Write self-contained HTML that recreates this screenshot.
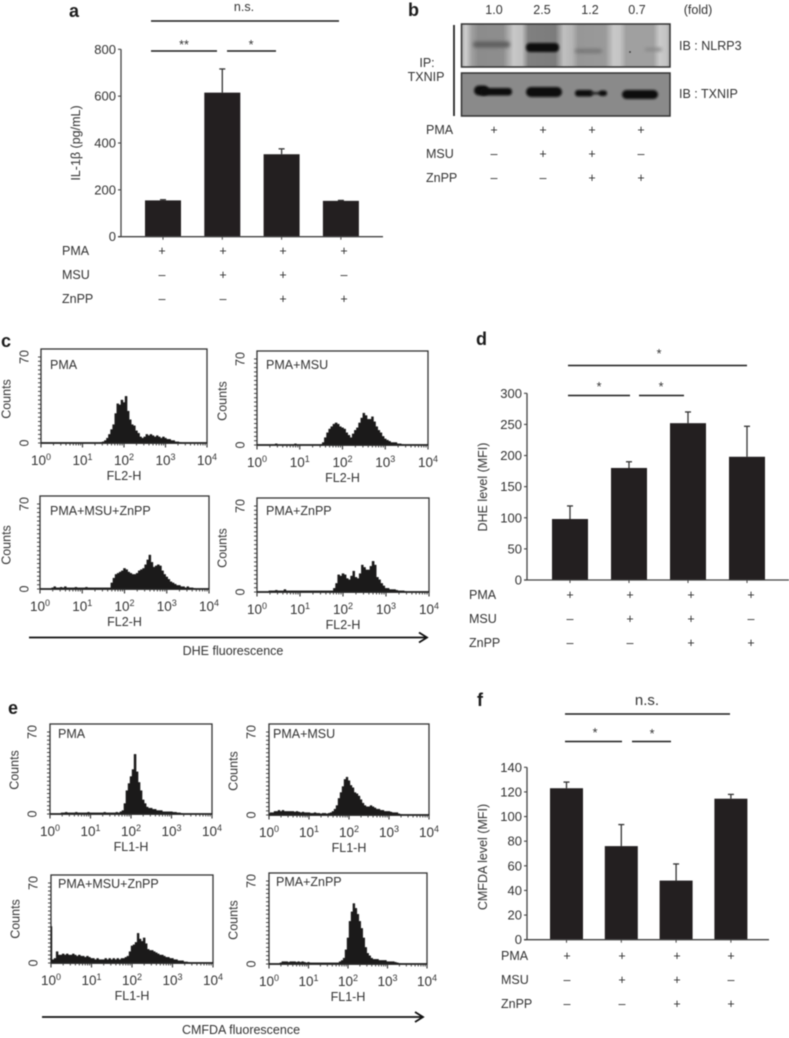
<!DOCTYPE html>
<html lang="en">
<head>
<meta charset="utf-8">
<title>Multi-panel figure</title>
<style>
html,body{margin:0;padding:0;background:#fff;}
#figure{display:block;width:789px;height:1038px;filter:blur(0.4px);}
text{font-family:"Liberation Sans",sans-serif;fill:#333;font-size:12.5px;}
.letter{font-weight:bold;font-size:18px;fill:#1c1c1c;}
</style>
</head>
<body>
<svg id="figure" xmlns="http://www.w3.org/2000/svg" width="789" height="1038" viewBox="0 0 789 1038">
<defs>
<linearGradient id="blotStreaks" x1="0" x2="1" y1="0" y2="0">
<stop offset="0" stop-color="#a8a8a8"/><stop offset=".02" stop-color="#cfcfcf"/><stop offset=".05" stop-color="#a0a0a0"/><stop offset=".08" stop-color="#8c8c8c"/>
<stop offset=".2" stop-color="#8e8e8e"/><stop offset=".25" stop-color="#c8c8c8"/><stop offset=".29" stop-color="#c0c0c0"/><stop offset=".32" stop-color="#808080"/>
<stop offset=".45" stop-color="#7c7c7c"/><stop offset=".49" stop-color="#c0c0c0"/><stop offset=".53" stop-color="#b5b5b5"/><stop offset=".56" stop-color="#979797"/>
<stop offset=".69" stop-color="#9a9a9a"/><stop offset=".73" stop-color="#c8c8c8"/><stop offset=".76" stop-color="#c4c4c4"/><stop offset=".79" stop-color="#a0a0a0"/>
<stop offset=".92" stop-color="#a0a0a0"/><stop offset=".95" stop-color="#cacaca"/><stop offset=".98" stop-color="#c4c4c4"/><stop offset="1" stop-color="#aaaaaa"/>
</linearGradient>
<filter id="bandBlur" x="-30%" y="-100%" width="160%" height="300%"><feGaussianBlur stdDeviation="1"/></filter>
<filter id="softBlur" x="-30%" y="-100%" width="160%" height="300%"><feGaussianBlur stdDeviation="1.8"/></filter>
</defs>
<rect x="0" y="0" width="789" height="1038" fill="#fff"/>

<text class="letter" x="69" y="17">a</text>
<text class="letter" x="408" y="16">b</text>
<text class="letter" x="1" y="347">c</text>
<text class="letter" x="476" y="345">d</text>
<text class="letter" x="8" y="714">e</text>
<text class="letter" x="477" y="706">f</text>

<g id="blot">
<rect x="461.500" y="24" width="208.500" height="43" fill="url(#blotStreaks)" stroke="#333" stroke-width="1.5"/>
<rect x="473" y="41.500" width="37" height="6" rx="3" fill="#5e5e5e" filter="url(#softBlur)"/>
<rect x="526" y="43" width="33" height="9" rx="4" fill="#0d0d0d" filter="url(#bandBlur)"/>
<rect x="575" y="49" width="27" height="4" rx="2" fill="#757575" filter="url(#softBlur)"/>
<rect x="645" y="48" width="17" height="3" rx="1.5" fill="#858585" filter="url(#softBlur)"/>
<circle cx="630" cy="52" r="0.9" fill="#333"/>
<rect x="461.500" y="73" width="208.500" height="43" fill="#8a8a8a" stroke="#333" stroke-width="1.5"/>
<rect x="474" y="85.500" width="15" height="10" rx="5" fill="#0c0c0c" filter="url(#bandBlur)"/>
<rect x="480" y="88" width="32" height="7.500" rx="3.500" fill="#0c0c0c" filter="url(#bandBlur)"/>
<rect x="526" y="87" width="36" height="10" rx="5" fill="#0c0c0c" filter="url(#bandBlur)"/>
<rect x="575" y="90" width="18" height="6.500" rx="3" fill="#111" filter="url(#bandBlur)"/>
<rect x="590" y="92" width="12" height="2.500" fill="#222" filter="url(#bandBlur)"/>
<rect x="599" y="90.500" width="8" height="5.500" rx="2.500" fill="#111" filter="url(#bandBlur)"/>
<rect x="622" y="90" width="36" height="9" rx="4.500" fill="#0c0c0c" filter="url(#bandBlur)"/>
<line x1="454" y1="25" x2="454" y2="116" stroke="#1c1c1c" stroke-width="1.7"/>
<text x="427" y="67" text-anchor="middle">IP:</text>
<text x="426" y="81" text-anchor="middle">TXNIP</text>
<text x="679" y="50">IB : NLRP3</text>
<text x="679" y="98">IB : TXNIP</text>
<text x="698" y="14" text-anchor="middle">(fold)</text>
</g>

<g id="arrows">
<line x1="29" y1="637.500" x2="426" y2="637.500" stroke="#111" stroke-width="1.8"/>
<polyline points="419,632.500 427,637.500 419,642.500" fill="none" stroke="#111" stroke-width="1.8"/>
<text x="233" y="655" text-anchor="middle">DHE fluorescence</text>
<line x1="42" y1="1017" x2="422" y2="1017" stroke="#111" stroke-width="1.8"/>
<polyline points="415,1012 423,1017 415,1022" fill="none" stroke="#111" stroke-width="1.8"/>
<text x="241" y="1034" text-anchor="middle">CMFDA fluorescence</text>
</g>

<g id="sig">
<text x="244" y="11" text-anchor="middle">n.s.</text>
<line x1="151" y1="21" x2="339" y2="21" stroke="#1c1c1c" stroke-width="1.6"/>
<line x1="151" y1="51" x2="217" y2="51" stroke="#1c1c1c" stroke-width="1.6"/>
<line x1="227" y1="51" x2="276" y2="51" stroke="#1c1c1c" stroke-width="1.6"/>
<text x="184" y="49" text-anchor="middle">**</text>
<text x="251" y="49" text-anchor="middle">*</text>
<text x="659" y="358" text-anchor="middle">*</text>
<line x1="568" y1="365.500" x2="747" y2="365.500" stroke="#1c1c1c" stroke-width="1.6"/>
<text x="599" y="391" text-anchor="middle">*</text>
<text x="661" y="391" text-anchor="middle">*</text>
<line x1="568" y1="395.500" x2="630" y2="395.500" stroke="#1c1c1c" stroke-width="1.6"/>
<line x1="639" y1="395.500" x2="684" y2="395.500" stroke="#1c1c1c" stroke-width="1.6"/>
<text x="647" y="705" text-anchor="middle" style="font-size:15px">n.s.</text>
<line x1="565" y1="714" x2="730" y2="714" stroke="#1c1c1c" stroke-width="1.6"/>
<line x1="565" y1="741.500" x2="622" y2="741.500" stroke="#1c1c1c" stroke-width="1.6"/>
<line x1="632" y1="741.500" x2="671" y2="741.500" stroke="#1c1c1c" stroke-width="1.6"/>
<text x="595" y="737" text-anchor="middle">*</text>
<text x="652" y="738" text-anchor="middle">*</text>
</g>
<g id="plots"></g>
</svg>

<script>
// Treatment matrix shared by panels
const pmaSigns = ['+', '+', '+', '+'];
const msuSigns = ['–', '+', '+', '–'];
const znppSigns = ['–', '–', '+', '+'];
const rowLabels = ['PMA', 'MSU', 'ZnPP'];
const foldValues = ['1.0', '2.5', '1.2', '0.7'];

// Panel a
const aTicks = [0, 200, 400, 600, 800];
const aValues = [155, 615, 352, 153];
const aErrorTops = [158, 716, 375, 155];
// Panel d
const dTicks = [0, 50, 100, 150, 200, 250, 300];
const dValues = [98, 180, 252, 198];
const dErrorTops = [119, 190, 270, 247];
// Panel f
const fTicks = [0, 20, 40, 60, 80, 100, 120, 140];
const fValues = [123, 76, 48, 114.5];
const fErrorTops = [128, 93.5, 61.5, 118];

// Flow histograms: event counts per 0.05-decade bin from 10^0 to 10^4
const decadeExponents = [0, 1, 2, 3, 4];
const c1Counts = [0,0,0,0,0,0,0,0,0,0,0,0,0,0,0,0,0,0,0,0,0,0,0,0,0,0,0,0,0,0.5,1,2,4,7,11,15,24,32,31,35,33,38,26,19,15,14,10,8,5,4,5,7,6,7,6,5,6,5,4,5,4,3,3,2,2,1,1,0.5,0,0,0,0,0,0,0,0,0,0,0,0,0];
const c2Counts = [0,0,0,0,0,0,0,0,0,1,0,0,0,0,0,0,0,0,1,0,0,0,0,0,0,0,0,0,0,0,0.5,2,6,10,13,15,17,18,17,15,14,13,10,8,6,9,12,14,18,22,26,24,21,21,23,19,15,12,10,7,5,4,3,2,2,2,1,1,0.5,0,0,0,0,0,0,0,0,0,0,0,0];
const c3Counts = [0,0,0,0,0,0,1,2,1,1,1.5,1,2,1,1,1,1,1.5,1,1,1,1,1.5,1,1,1,1,1,1,1,1,1,1,1,5,9,12,13,14,15,17,16,14,13,12,12,13,15,16,17,20,24,28,22,18,19,20,19,15,12,10,8,6,5,4,3,3,2,2,1,2,1,1,0.5,0,0,0,0,0,0,0];
const c4Counts = [0,0,0,0,0,0,1,1,1,1.5,1,1,1,2,1,1,1,1,1,1,1,1,1,1,1,1,1,1,1,1,1,1,1,1,1,1,3,7,14,13,15,14,11,10,13,17,12,11,15,22,20,18,18,21,25,22,12,10,7,5,3,3,2,2,2,1.5,1,1,1,0.5,0,0,0,0,0,0,0,0,0,0,0];
const e1Counts = [0,0,0,0,0,0,1,1,1.5,1,1,1,1,1.5,1,1,1,1,1,1.5,1,1,1,1,1,1,1,1.5,1,1,1,1,1,1.5,1,2,3,9,20,26,32,38,51,36,27,20,12,9,6,5,5,4,4,3,3,3,2,2,2,2,2,1.5,1.5,1,1,0.5,0,0,0,0,0,0,0,0,0,0,0,0,0,0,0];
const e2Counts = [1,2,2,3,3,4,3,4,3,3,3,3,3,2.5,3,2.5,2,2.5,2,2,2,1.5,1.5,2,1.5,1.5,1,1.5,1.5,1,1.5,2,3,5,8,14,19,24,30,32,29,25,23,19,18,16,13,10,8,7,7,8,7,6,5,5,4,4,3,3,3,2.5,2,2,2,1,0.5,0,0,0,0,0,0,0,0,0,0,0,0,0,0];
const e3Counts = [32,3,4,10,7,7,8,7,8,7,7,8,7,6,7,6,6,5,6,5,4,4,3,4,3,3,3,4,3,4,3,4,3,4,3,4,4,5,6,10,15,16,18,26,21,19,22,17,12,11,11,10,9,8,7,7,6,5,5,4,4,3,3,2,2,2,1,1,0.5,0,0,0,0,0,0,0,0,0,0,0,0];
const e4Counts = [0,0,0,0,0,0,1,2,2,2,1.5,2,2,2,1.5,2,1.5,2,1.5,1,1.5,1,1,1,1,1,1,1,1,1,1,1,1,1,1,1,2,3,5,12,22,36,44,51,47,42,36,30,22,14,9,7,5,4,4,4,3,3,3,3,2,2,2,2,1.5,1,0.5,0,0,0,0,0,0,0,0,0,0,0,0,0,0];

const svgNS = 'http://www.w3.org/2000/svg';
const plots = document.getElementById('plots');

function make(tag, parent, props) {
  const el = document.createElementNS(svgNS, tag);
  Object.keys(props).forEach(function (k) { el.setAttribute(k, props[k]); });
  parent.appendChild(el);
  return el;
}

function drawSignRows(g, cfg) {
  const signRows = [pmaSigns, msuSigns, znppSigns];
  signRows.forEach(function (signs, r) {
    const label = make('text', g, { x: cfg.rowLabelX, y: cfg.rowY[r] + 4 });
    
    
    label.textContent = rowLabels[r];
    signs.forEach(function (s, i) {
      const t = make('text', g, { x: cfg.signX[i], y: cfg.rowY[r] + 4, 'text-anchor': 'middle' });
      
      
      t.textContent = s;
    });
  });
}

function drawBarChart(cfg, ticks, values, errorTops) {
  const g = make('g', plots, {});
  
  
  const maxTick = ticks[ticks.length - 1];
  const yScale = function (v) { return cfg.y0 - v / maxTick * (cfg.y0 - cfg.yTop); };
  const xScale = function (i) { return cfg.firstCenter + i * cfg.step; };

  values.forEach(function (v, i) {
    const cx = xScale(i);
    const errLine = make('line', g, { x1: cx, x2: cx, y1: yScale(errorTops[i]), y2: yScale(v), stroke: '#333', 'stroke-width': 1.3 });
    
    
    const errCap = make('line', g, { x1: cx - 3, x2: cx + 3, y1: yScale(errorTops[i]), y2: yScale(errorTops[i]), stroke: '#333', 'stroke-width': 1.3 });
    
    
    const bar = make('rect', g, { x: cx - cfg.barW / 2, y: yScale(v), width: cfg.barW, height: cfg.y0 - yScale(v), fill: '#231f20' });
    
    
    const tick = make('line', g, { x1: cx, x2: cx, y1: cfg.y0, y2: cfg.y0 + 3, stroke: '#444', 'stroke-width': 1 });
    
    
  });

  const yAxis = make('line', g, { x1: cfg.axisX, x2: cfg.axisX, y1: cfg.yTop, y2: cfg.y0, stroke: '#444', 'stroke-width': 1.3 });
  
  
  const xAxis = make('line', g, { x1: cfg.axisX - 3, x2: cfg.axisEnd, y1: cfg.y0, y2: cfg.y0, stroke: '#444', 'stroke-width': 1.3 });
  
  

  ticks.forEach(function (v) {
    const tm = make('line', g, { x1: cfg.axisX - 3, x2: cfg.axisX, y1: yScale(v), y2: yScale(v), stroke: '#444', 'stroke-width': 1.1 });
    
    
    const tl = make('text', g, { x: cfg.axisX - 5, y: yScale(v) + 4.5, 'text-anchor': 'end', style: 'font-size:13px' });
    
    
    tl.textContent = v;
  });

  const title = make('text', g, { x: cfg.titleX, y: cfg.titleY, 'text-anchor': 'middle', transform: 'rotate(-90 ' + cfg.titleX + ' ' + cfg.titleY + ')' });
  
  
  title.textContent = cfg.title;

  drawSignRows(g, cfg);
}

function drawHistogram(cfg, counts) {
  const g = make('g', plots, {});
  
  
  const xScale = function (logV) { return cfg.left + logV / 4 * (cfg.right - cfg.left); };
  const yScale = function (c) { return cfg.bottom - c / 70 * (cfg.bottom - cfg.top - 8); };

  const frame = make('rect', g, { x: cfg.left, y: cfg.top, width: cfg.right - cfg.left, height: cfg.bottom - cfg.top, fill: '#fff', stroke: '#333', 'stroke-width': 1.3 });
  
  

  let pts = xScale(0) + ',' + cfg.bottom;
  counts.forEach(function (c, i) {
    const logV = i * 0.05;
    const x0 = xScale(Math.max(0, logV - 0.025)).toFixed(1);
    const x1 = xScale(Math.min(4, logV + 0.025)).toFixed(1);
    pts += ' ' + x0 + ',' + yScale(c).toFixed(1) + ' ' + x1 + ',' + yScale(c).toFixed(1);
  });
  pts += ' ' + xScale(Math.min(4, (counts.length - 1) * 0.05)) + ',' + cfg.bottom;
  const area = make('polygon', g, { points: pts, fill: '#1b1a1a', stroke: '#1b1a1a', 'stroke-width': 0.4 });
  
  

  const baseline = make('line', g, { x1: cfg.left, x2: cfg.right, y1: cfg.bottom, y2: cfg.bottom, stroke: '#222', 'stroke-width': 1.8 });
  
  

  for (let c = 0; c <= 73; c += 3.5) {
    const yt = make('line', g, { x1: cfg.left - 3, x2: cfg.left, y1: yScale(c), y2: yScale(c), stroke: '#333', 'stroke-width': 0.9 });
    
    
  }
  [0, 70].forEach(function (c) {
    const lx = cfg.left - cfg.yLabelGap;
    const ly = yScale(c);
    const yl = make('text', g, { x: lx, y: ly, 'text-anchor': 'middle', 'dominant-baseline': 'middle', transform: 'rotate(-90 ' + lx + ' ' + ly + ')' });
    
    
    yl.textContent = c;
  });
  const tx = cfg.left - cfg.yLabelGap - 18;
  const ty = cfg.bottom - 44;
  const yTitle = make('text', g, { x: tx, y: ty, 'text-anchor': 'middle', 'dominant-baseline': 'middle', transform: 'rotate(-90 ' + tx + ' ' + ty + ')' });
  
  
  yTitle.textContent = 'Counts';

  decadeExponents.forEach(function (e) {
    const xv = xScale(e);
    const major = make('line', g, { x1: xv, x2: xv, y1: cfg.bottom, y2: cfg.bottom + 4.5, stroke: '#333', 'stroke-width': 1.1 });
    
    
    if (e < 4) {
      [2, 3, 4, 5, 6, 7, 8, 9].forEach(function (m) {
        const xm = xScale(e + Math.log10(m));
        const minor = make('line', g, { x1: xm, x2: xm, y1: cfg.bottom, y2: cfg.bottom + 2.5, stroke: '#333', 'stroke-width': 0.9 });
        
        
      });
    }
    const lab = make('text', g, { x: xv, y: cfg.bottom + 22, 'text-anchor': 'middle', style: 'font-size:13.5px' });
    
    
    lab.textContent = '10';
    const sup = make('tspan', lab, { dy: -5, style: 'font-size:9px' });
    sup.textContent = e;
  });

  const xTitle = make('text', g, { x: (cfg.left + cfg.right) / 2, y: cfg.bottom + 37, 'text-anchor': 'middle' });
  
  
  xTitle.textContent = cfg.xTitle;

  const inner = make('text', g, { x: cfg.left + cfg.labelDx, y: cfg.top + cfg.labelDy });
  
  
  inner.textContent = cfg.label;
}

drawBarChart({ name: 'il1b-bar-chart', y0: 236.7, yTop: 49.3, axisX: 121, axisEnd: 383, firstCenter: 163, step: 59.3, barW: 36, titleX: 80, titleY: 143, title: 'IL-1β (pg/mL)', rowLabelX: 62, rowY: [251, 275, 299], signX: [162, 223, 283, 344] }, aTicks, aValues, aErrorTops);
drawBarChart({ name: 'dhe-bar-chart', y0: 580, yTop: 393.3, axisX: 527, axisEnd: 789, firstCenter: 570, step: 59, barW: 36, titleX: 487, titleY: 487, title: 'DHE level (MFI)', rowLabelX: 469, rowY: [595, 619, 643], signX: [570, 630, 691, 751] }, dTicks, dValues, dErrorTops);
drawBarChart({ name: 'cmfda-bar-chart', y0: 939.7, yTop: 767.3, axisX: 527, axisEnd: 769, firstCenter: 566.5, step: 54.8, barW: 33, titleX: 487, titleY: 857, title: 'CMFDA level (MFI)', rowLabelX: 501, rowY: [956, 980, 1004], signX: [567, 622, 677, 731] }, fTicks, fValues, fErrorTops);

// Panel b treatment rows and fold values
const blotGroup = document.getElementById('blot');
drawSignRows(blotGroup, { rowLabelX: 426, rowY: [130, 154, 178], signX: [494, 543, 592, 641] });
foldValues.forEach(function (f, i) {
  const foldX = [494, 542, 590, 637][i];
  const t = make('text', blotGroup, { x: foldX, y: 14, 'text-anchor': 'middle' });
  
  
  t.textContent = f;
});

drawHistogram({ name: 'dhe-hist-pma', left: 41, right: 207, top: 349, bottom: 443, yLabelGap: 16, xTitle: 'FL2-H', label: 'PMA', labelDx: 9, labelDy: 20 }, c1Counts);
drawHistogram({ name: 'dhe-hist-pma-msu', left: 257, right: 428, top: 351, bottom: 445, yLabelGap: 16, xTitle: 'FL2-H', label: 'PMA+MSU', labelDx: 9, labelDy: 18 }, c2Counts);
drawHistogram({ name: 'dhe-hist-pma-msu-znpp', left: 40, right: 209, top: 496, bottom: 589, yLabelGap: 15, xTitle: 'FL2-H', label: 'PMA+MSU+ZnPP', labelDx: 10, labelDy: 19 }, c3Counts);
drawHistogram({ name: 'dhe-hist-pma-znpp', left: 257, right: 429, top: 498, bottom: 592, yLabelGap: 16, xTitle: 'FL2-H', label: 'PMA+ZnPP', labelDx: 9, labelDy: 17 }, c4Counts);
drawHistogram({ name: 'cmfda-hist-pma', left: 50, right: 212, top: 724, bottom: 814, yLabelGap: 17, xTitle: 'FL1-H', label: 'PMA', labelDx: 8, labelDy: 14 }, e1Counts);
drawHistogram({ name: 'cmfda-hist-pma-msu', left: 269, right: 429, top: 724, bottom: 815, yLabelGap: 17, xTitle: 'FL1-H', label: 'PMA+MSU', labelDx: 4, labelDy: 14 }, e2Counts);
drawHistogram({ name: 'cmfda-hist-pma-msu-znpp', left: 51, right: 213, top: 875, bottom: 963, yLabelGap: 17, xTitle: 'FL1-H', label: 'PMA+MSU+ZnPP', labelDx: 7, labelDy: 13 }, e3Counts);
drawHistogram({ name: 'cmfda-hist-pma-znpp', left: 269, right: 427, top: 873, bottom: 964, yLabelGap: 17, xTitle: 'FL1-H', label: 'PMA+ZnPP', labelDx: 7, labelDy: 13 }, e4Counts);
</script>
</body>
</html>
